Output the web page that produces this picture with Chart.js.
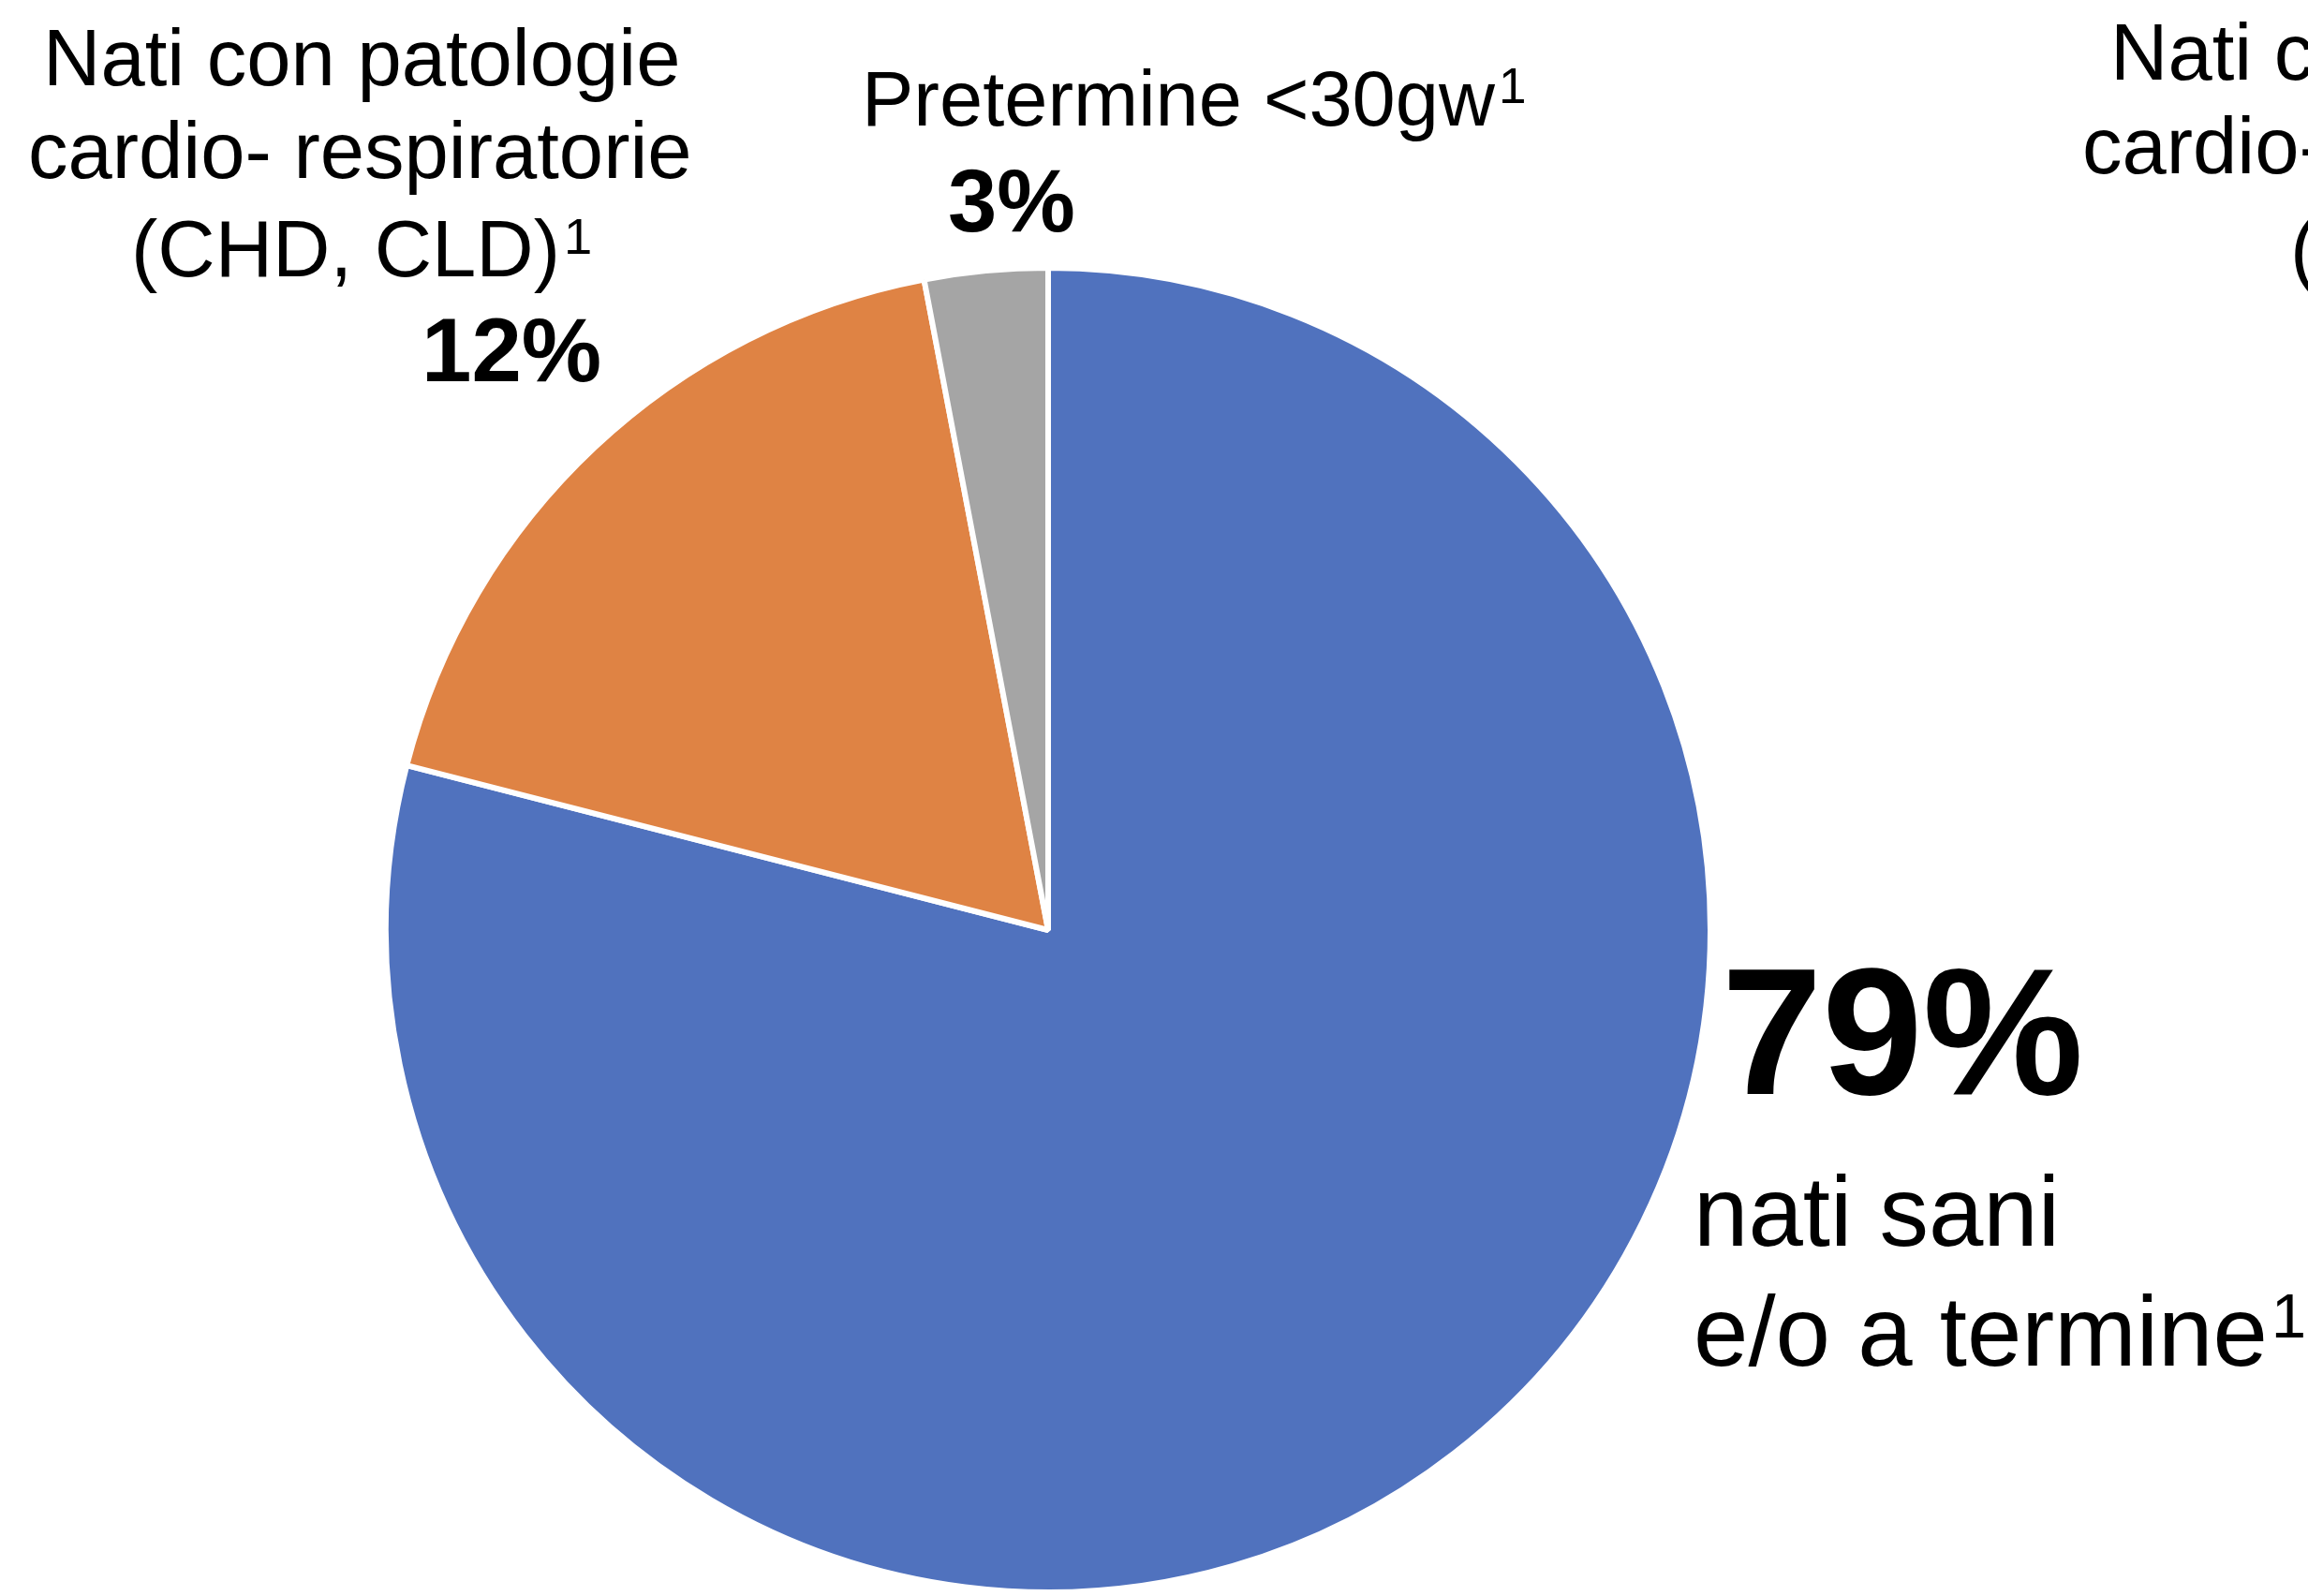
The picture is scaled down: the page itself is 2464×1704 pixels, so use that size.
<!DOCTYPE html>
<html lang="it">
<head>
<meta charset="utf-8">
<title>Nati sani e/o a termine</title>
<script src="https://cdn.jsdelivr.net/npm/chart.js@4/dist/chart.umd.min.js"></script>
<style>
  html, body {
    margin: 0;
    padding: 0;
    width: 2464px;
    height: 1704px;
    overflow: hidden;
    background: #ffffff;
    font-family: "Liberation Sans", Arial, sans-serif;
    color: #000;
  }
  #torta {
    position: absolute;
    left: 409px;
    top: 283px;
  }
  .etichetta {
    position: absolute;
    white-space: nowrap;
    line-height: 1;
  }
  .normale { font-size: 85px; }
  .grassetto { font-weight: bold; }
  .apice { font-size: 0.64em; vertical-align: 0.45em; margin-left: 4px; }
</style>
</head>
<body>
<canvas id="torta" width="1420" height="1420"></canvas>

<!-- etichette -->
<div class="etichetta normale" style="left:46px;top:19px">Nati con patologie</div>
<div class="etichetta normale" style="left:30px;top:118px">cardio- respiratorie</div>
<div class="etichetta normale" style="left:140px;top:223px">(CHD, CLD)<span class="apice">1</span></div>
<div class="etichetta grassetto" id="lblArancio" style="left:450px;top:326px;font-size:96px"></div>

<div class="etichetta" style="left:920px;top:64px;font-size:83px">Pretermine &lt;30gw<span class="apice">1</span></div>
<div class="etichetta grassetto" id="lblGrigio" style="left:1012px;top:168px;font-size:94px"></div>

<div class="etichetta grassetto" id="lblBlu" style="left:1838px;top:1005px;font-size:193px"></div>
<div class="etichetta" style="left:1808px;top:1241px;font-size:105px">nati sani</div>
<div class="etichetta" style="left:1808px;top:1369px;font-size:105px">e/o a termine<span class="apice">1</span></div>

<!-- grafico accanto, tagliato dal bordo -->
<div class="etichetta normale" style="left:2253px;top:13px">Nati con patologie</div>
<div class="etichetta normale" style="left:2223px;top:113px">cardio- respiratorie</div>
<div class="etichetta normale" style="left:2445px;top:223px">(CHD, CLD)<span class="apice">1</span></div>

<script>
  const categorie = [
    "Nati sani e/o a termine",
    "Nati con patologie cardio-respiratorie (CHD, CLD)",
    "Pretermine <30gw",
  ];
  // ampiezza delle fette
  const valori = [79, 18, 3];
  // percentuali scritte nelle etichette
  const etichettePercento = ["79%", "12%", "3%"];
  const colori = ["#5072BE", "#DF8344", "#A5A5A5"];

  document.getElementById("lblBlu").textContent = etichettePercento[0];
  document.getElementById("lblArancio").textContent = etichettePercento[1];
  document.getElementById("lblGrigio").textContent = etichettePercento[2];

  const grafico = new Chart(document.getElementById("torta"), {
    type: "pie",
    data: {
      labels: categorie,
      datasets: [
        {
          data: valori,
          backgroundColor: colori,
          borderColor: "#ffffff",
          borderWidth: 6,
        },
      ],
    },
    options: {
      responsive: false,
      animation: false,
      devicePixelRatio: 1,
      rotation: 0,
      layout: { padding: 0 },
      plugins: {
        legend: { display: false },
        tooltip: { enabled: false },
        title: { display: false },
      },
    },
  });
</script>
</body>
</html>
